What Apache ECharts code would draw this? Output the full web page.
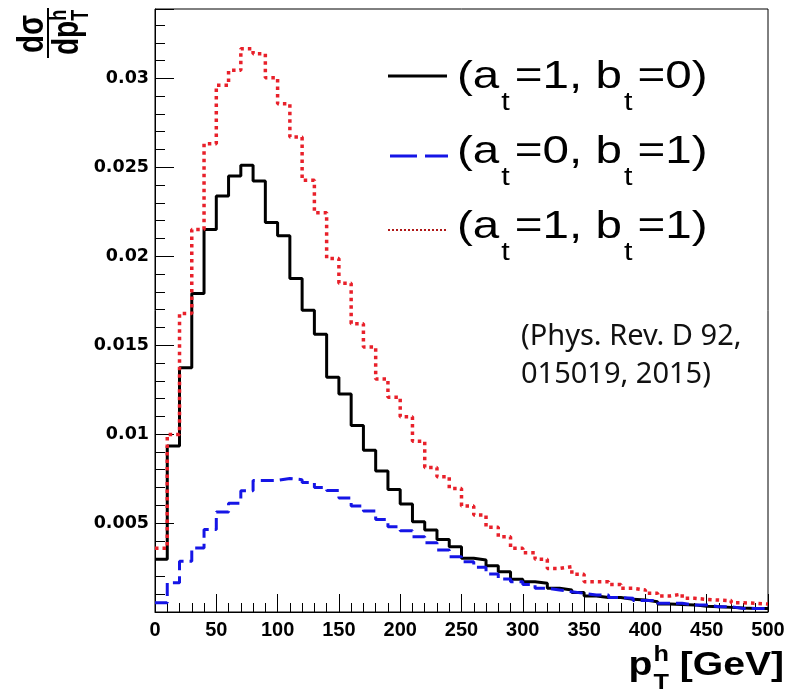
<!DOCTYPE html>
<html><head><meta charset="utf-8">
<script src="https://cdn.jsdelivr.net/npm/echarts@6/dist/echarts.min.js"></script>
<style>html,body{margin:0;padding:0;background:#fff}#c{width:798px;height:691px}</style>
</head><body><div id="c"></div>
<script>
// ---- data ----
const binLow = [0,10,20,30,40,50,60,70,80,90,100,110,120,130,140,150,160,170,180,190,200,210,220,230,240,250,260,270,280,290,300,310,320,330,340,350,360,370,380,390,400,410,420,430,440,450,460,470,480,490];
const binWidth = 10;
const valsA1B0 = [0.00296,0.00933,0.01373,0.01790,0.02150,0.02339,0.02451,0.02511,0.02423,0.02190,0.02115,0.01875,0.01697,0.01562,0.01320,0.01226,0.01048,0.00910,0.00792,0.00688,0.00607,0.00508,0.00461,0.00408,0.00367,0.00302,0.00292,0.00260,0.00226,0.00184,0.00170,0.00161,0.00133,0.00124,0.00109,0.00090,0.00082,0.00082,0.00071,0.00067,0.00058,0.00045,0.00042,0.00040,0.00032,0.00030,0.00026,0.00022,0.00020,0.00020];
const valsA0B1 = [0.00052,0.00165,0.00285,0.00360,0.00464,0.00562,0.00612,0.00682,0.00739,0.00740,0.00750,0.00744,0.00728,0.00700,0.00683,0.00641,0.00596,0.00568,0.00520,0.00479,0.00457,0.00423,0.00389,0.00348,0.00311,0.00283,0.00251,0.00213,0.00185,0.00170,0.00155,0.00133,0.00124,0.00114,0.00105,0.00096,0.00096,0.00082,0.00077,0.00064,0.00064,0.00049,0.00049,0.00040,0.00040,0.00030,0.00030,0.00020,0.00020,0.00020];
const valsA1B1 = [0.00358,0.00998,0.01678,0.02150,0.02633,0.02961,0.03045,0.03167,0.03139,0.03004,0.02858,0.02670,0.02427,0.02244,0.01987,0.01848,0.01620,0.01490,0.01310,0.01208,0.01097,0.00960,0.00813,0.00760,0.00695,0.00596,0.00545,0.00476,0.00423,0.00358,0.00333,0.00296,0.00245,0.00255,0.00212,0.00170,0.00170,0.00155,0.00133,0.00124,0.00105,0.00090,0.00101,0.00077,0.00071,0.00067,0.00064,0.00052,0.00049,0.00045];
const xTickLabels = [0,50,100,150,200,250,300,350,400,450,500];
const yTickLabels = [0.005,0.01,0.015,0.02,0.025,0.03];
const legendEq = [['1','0'],['0','1'],['1','1']];
const noteText = '(Phys. Rev. D 92,\n015019, 2015)';

// ---- helpers ----
const ctx = document.createElement('canvas').getContext('2d');
function tw(t, size, weight, family){ ctx.font = weight+' '+size+'px "'+family+'"'; return ctx.measureText(t).width; }
function buildText(pieces, o){
  let x = 0; const kids = [];
  function mk(t, px, py, size, w){
    return {type:'text', x:px, y:py, scaleX:o.sx, scaleY:o.sy, silent:true,
      style:{text:t, fontFamily:o.family, fontSize:size, fontWeight:w, fill:o.color||'#000', align:'left', verticalAlign:'middle'}};
  }
  pieces.forEach(p => {
    const w = p.weight || o.weight;
    if (p.sup !== undefined) {
      const w1 = tw(p.sup,p.size,w,o.family), w2 = tw(p.sub,p.size,w,o.family);
      kids.push(mk(p.sup, x + (p.gapBefore||0), p.dySup, p.size, w));
      kids.push(mk(p.sub, x + (p.gapBefore||0), p.dySub, p.size, w));
      x += (p.gapBefore||0) + Math.max(w1,w2)*o.sx + (p.gap||0);
    } else {
      x += (p.gapBefore||0);
      kids.push(mk(p.t, x, p.dy||0, p.size, w));
      x += tw(p.t,p.size,w,o.family)*o.sx + (p.gap||0);
    }
  });
  return {children:kids, width:x};
}
function shift(kids, dx, dy){ return kids.map(k => Object.assign({}, k, {x:k.x+dx, y:k.y+dy})); }
// place local (text-direction) coords rotated 90deg CCW around screen point (gx, gy)
function rotCCW(kids, gx, gy){ return kids.map(k => Object.assign({}, k, {x:gx + k.y, y:gy - k.x, rotation:Math.PI/2})); }

// legend
const legendY = [77.5, 152.5, 227.5];
const lineY = [76, 156, 230];
const legendGraphics = [];
legendEq.forEach((eq, i) => {
  const M = 39, S = 25, D = 26;
  const pcs = [
    {t:'(', size:M}, {t:'a', size:M, gap:2}, {t:'t', size:S, dy:D, gap:5},
    {t:'='+eq[0]+', ', size:M}, {t:'b', size:M, gap:2}, {t:'t', size:S, dy:D, gap:5},
    {t:'='+eq[1]+')', size:M}
  ];
  const b = buildText(pcs, {family:'Liberation Sans', weight:'normal', sx:1.22, sy:1});
  shift(b.children, 457, legendY[i]).forEach(k => legendGraphics.push(k));
});
legendGraphics.push({type:'line', silent:true, shape:{x1:388,y1:lineY[0],x2:447,y2:lineY[0]}, style:{stroke:'#000', lineWidth:3}});
legendGraphics.push({type:'line', silent:true, shape:{x1:390,y1:lineY[1],x2:448,y2:lineY[1]}, style:{stroke:'#1515e6', lineWidth:3, lineDash:[27,8]}});
legendGraphics.push({type:'line', silent:true, shape:{x1:388,y1:lineY[2],x2:448,y2:lineY[2]}, style:{stroke:'#b01818', lineWidth:2, lineDash:[2,2]}});

// x-axis title
const xt = buildText([
  {t:'p', size:34},
  {sup:'h', sub:'T', size:22, dySup:-11, dySub:17, gapBefore:1},
  {t:' [GeV]', size:34}
], {family:'Liberation Sans', weight:'bold', sx:1.15, sy:1});
const xTitleKids = shift(xt.children, 784 - xt.width, 666);

// y-axis title (rotated fraction), local coords: x along text, y downwards
const num = buildText([{t:'dσ', size:28}], {family:'Liberation Sans', weight:'bold', sx:1.05, sy:1.3});
const den = buildText([{t:'dp', size:28}, {sup:'h', sub:'T', size:18, dySup:-8, dySub:14}], {family:'Liberation Sans', weight:'bold', sx:1, sy:1.3});
const yTitleKids = rotCCW(shift(num.children, 5, -15).concat(shift(den.children, 3, 20)), 48, 58);
yTitleKids.push({type:'line', silent:true, shape:{x1:48,y1:58,x2:48,y2:8}, style:{stroke:'#000', lineWidth:2}});

const note = {type:'text', x:521, y:318, silent:true, style:{text:noteText, fontFamily:'Noto Sans', fontSize:29, lineHeight:38, fill:'#111', align:'left', verticalAlign:'top'}};

function steps(vals){
  const d = binLow.map((x,i) => [x, vals[i]]);
  d.push([binLow[binLow.length-1] + binWidth, vals[vals.length-1]]);
  return d;
}

const chart = echarts.init(document.getElementById('c'), null, {renderer:'canvas'});
chart.setOption({
  animation:false,
  backgroundColor:'#fff',
  grid:{left:155, right:30, top:9, bottom:79, show:true, borderColor:'#000', borderWidth:1, backgroundColor:'#fff', containLabel:false},
  xAxis:{type:'value', min:0, max:500, interval:50,
    axisLine:{show:true, onZero:false, lineStyle:{color:'#000', width:1}},
    axisTick:{show:true, inside:true, length:18, lineStyle:{color:'#000', width:1}},
    minorTick:{show:true, splitNumber:5, length:9, lineStyle:{color:'#000', width:1}},
    splitLine:{show:false},
    axisLabel:{color:'#000', fontFamily:'Liberation Sans', fontWeight:'bold', fontSize:20, margin:8,
      formatter: v => xTickLabels.indexOf(v) >= 0 ? String(v) : ''}
  },
  yAxis:{type:'value', min:0, max:0.0339, interval:0.005,
    axisLine:{show:true, onZero:false, lineStyle:{color:'#000', width:1}},
    axisTick:{show:true, inside:true, length:19, lineStyle:{color:'#000', width:1}},
    minorTick:{show:true, splitNumber:5, length:10, lineStyle:{color:'#000', width:1}},
    splitLine:{show:false},
    axisLabel:{color:'#000', fontFamily:'DejaVu Sans', fontWeight:'bold', fontSize:17.5, margin:6,
      formatter: v => { const m = yTickLabels.find(t => Math.abs(t - v) < 1e-9); return m !== undefined ? String(m) : ''; }}
  },
  series:[
    {name:'(a_t=1, b_t=0)', type:'line', step:'end', data:steps(valsA1B0), showSymbol:false, symbol:'none', silent:true,
      lineStyle:{color:'#000', width:3}},
    {name:'(a_t=0, b_t=1)', type:'line', step:'end', data:steps(valsA0B1), showSymbol:false, symbol:'none', silent:true,
      lineStyle:{color:'#1515e6', width:3, type:[13,6]}},
    {name:'(a_t=1, b_t=1)', type:'line', step:'end', data:steps(valsA1B1), showSymbol:false, symbol:'none', silent:true,
      lineStyle:{color:'#e8202a', width:3.5, type:[3.5,4]}}
  ],
  graphic: legendGraphics.concat(xTitleKids, yTitleKids, [note])
});
</script>
</body></html>
